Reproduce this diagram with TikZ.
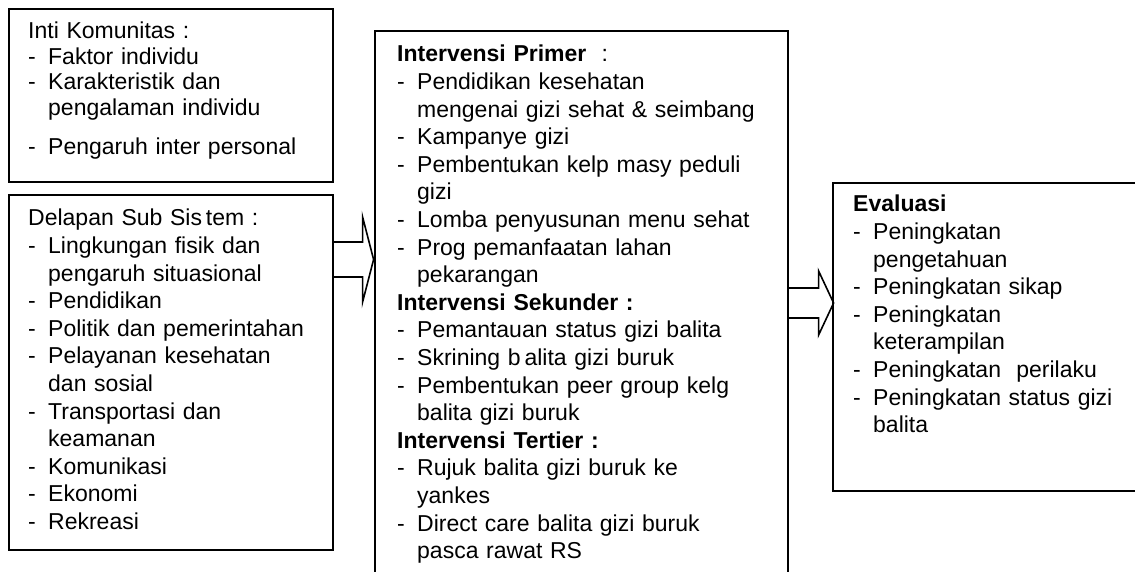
\documentclass[tikz,border=0pt]{standalone}
\usepackage{fontspec}
\setmainfont{Liberation Sans}
\setlength{\parindent}{0pt}
\newcommand{\itm}{\makebox[20pt][l]{-}}
\newcommand{\ind}{\hspace*{20pt}}
\tikzset{
  box/.style={draw, line width=1.6pt, anchor=north west, inner sep=0pt},
  txt/.style={anchor=north west, inner sep=0pt, align=left, text width=#1,
    font=\fontsize{23}{27.6}\selectfont},
  hollow/.style={draw, line width=1.6pt, line join=miter},
}
\begin{document}
\begin{tikzpicture}[x=1pt,y=1pt]
\useasboundingbox (0,0) rectangle (1135,571);
\clip (0,0) rectangle (1135,571);
% boxes
\node[box, minimum width=324pt, minimum height=173pt] (inti) at (8,563) {};
\node[box, minimum width=324pt, minimum height=355pt] (sub) at (8,377) {};
\node[box, minimum width=413pt, minimum height=580pt] (prim) at (374,541) {};
\node[box, minimum width=320pt, minimum height=308pt] (eval) at (832,389) {};
% texts
\node[txt=300pt, font=\fontsize{23}{25.4}\selectfont] (intitext) at ([shift={(20,-14)}]inti.north west) {Inti Komunitas :\\
\itm Faktor individu\\
\itm Karakteristik dan\\
\ind pengalaman individu\\[14pt]
\itm Pengaruh inter personal};
\node[txt=300pt] (subtext) at ([shift={(20,-15)}]sub.north west) {Delapan Sub Sis\,tem :\\
\itm Lingkungan fisik dan\\
\ind pengaruh situasional\\
\itm Pendidikan\\
\itm Politik dan pemerintahan\\
\itm Pelayanan kesehatan\\
\ind dan sosial\\
\itm Transportasi dan\\
\ind keamanan\\
\itm Komunikasi\\
\itm Ekonomi\\
\itm Rekreasi};
\node[txt=385pt] (primtext) at ([shift={(23,-15)}]prim.north west) {\textbf{Intervensi Primer}\ \ :\\
\itm Pendidikan kesehatan\\
\ind mengenai gizi sehat \& seimbang\\
\itm Kampanye gizi\\
\itm Pembentukan kelp masy peduli\\
\ind gizi\\
\itm Lomba penyusunan menu sehat\\
\itm Prog pemanfaatan lahan\\
\ind pekarangan\\
\textbf{Intervensi Sekunder :}\\
\itm Pemantauan status gizi balita\\
\itm Skrining b\,alita gizi buruk\\
\itm Pembentukan peer group kelg\\
\ind balita gizi buruk\\
\textbf{Intervensi Tertier :}\\
\itm Rujuk balita gizi buruk ke\\
\ind yankes\\
\itm Direct care balita gizi buruk\\
\ind pasca rawat RS};
\node[txt=280pt] (evaltext) at ([shift={(21,-13)}]eval.north west) {\textbf{Evaluasi}\\
\itm Peningkatan\\
\ind pengetahuan\\
\itm Peningkatan sikap\\
\itm Peningkatan\\
\ind keterampilan\\
\itm Peningkatan\ \ perilaku\\
\itm Peningkatan status gizi\\
\ind balita};
% block arrows
\draw[hollow] ([yshift=-48]sub.north east) -- ++(29,0) -- ++(0,25) -- ++(11,-42.5)
  -- ++(-11,-42.5) -- ++(0,25) -- ([yshift=-83]sub.north east);
\draw[hollow] ([yshift=-258]prim.north east) -- ++(30,0) -- ++(0,17) -- ++(15,-32)
  -- ++(-15,-32) -- ++(0,17) -- ([yshift=-288]prim.north east);
\end{tikzpicture}
\end{document}
